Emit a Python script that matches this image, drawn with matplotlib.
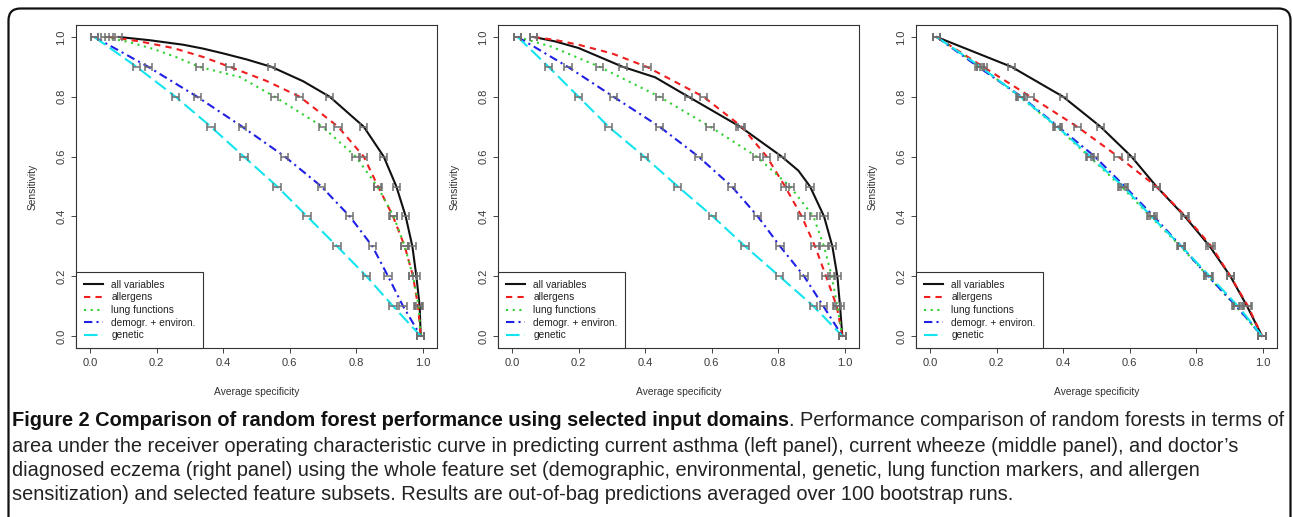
"""Three ROC-style panels (sensitivity vs average specificity) with a caption."""

import matplotlib

matplotlib.use("Agg")

import matplotlib.pyplot as plt
from matplotlib.patches import FancyBboxPatch
from matplotlib.transforms import IdentityTransform

plt.rcParams["font.family"] = ["Liberation Sans", "DejaVu Sans"]

SENS_LEVELS = [1.0, 0.9, 0.8, 0.7, 0.6, 0.5, 0.4, 0.3, 0.2, 0.1, 0.0]
SERIES = ["all variables", "allergens", "lung functions", "demogr. + environ.", "genetic"]
COLORS = ["#111111", "#f01e1e", "#2ed12e", "#1f1fe6", "#14e4ee"]
STYLES = ["-", (0, (3, 2.5)), (0, (1, 2.2)), (0, (4, 2, 1, 2)), (0, (6.5, 2.5))]

# average specificity at each sensitivity level (markers with error bars)
asthma = [
    [0.086, 0.545, 0.72, 0.822, 0.882, 0.92, 0.948, 0.968, 0.98, 0.99, 0.993],
    [0.057, 0.42, 0.63, 0.745, 0.822, 0.865, 0.91, 0.945, 0.97, 0.985, 0.993],
    [0.045, 0.328, 0.555, 0.698, 0.798, 0.863, 0.912, 0.945, 0.97, 0.987, 0.993],
    [0.013, 0.175, 0.322, 0.457, 0.585, 0.695, 0.78, 0.848, 0.895, 0.94, 0.993],
    [0.013, 0.14, 0.257, 0.363, 0.462, 0.562, 0.652, 0.742, 0.83, 0.91, 0.993],
]
wheeze = [
    [0.065, 0.333, 0.53, 0.685, 0.81, 0.895, 0.937, 0.962, 0.977, 0.985, 0.992],
    [0.065, 0.405, 0.575, 0.69, 0.765, 0.82, 0.87, 0.91, 0.943, 0.975, 0.992],
    [0.017, 0.263, 0.443, 0.595, 0.735, 0.835, 0.905, 0.937, 0.96, 0.977, 0.992],
    [0.017, 0.168, 0.305, 0.443, 0.56, 0.66, 0.738, 0.805, 0.877, 0.935, 0.992],
    [0.017, 0.11, 0.2, 0.29, 0.397, 0.498, 0.603, 0.7, 0.803, 0.905, 0.992],
]
eczema = [
    [0.02, 0.245, 0.4, 0.512, 0.605, 0.68, 0.765, 0.84, 0.902, 0.952, 0.997],
    [0.02, 0.16, 0.302, 0.442, 0.565, 0.68, 0.768, 0.845, 0.902, 0.955, 0.997],
    [0.02, 0.152, 0.27, 0.38, 0.478, 0.575, 0.662, 0.752, 0.835, 0.918, 0.997],
    [0.02, 0.145, 0.275, 0.385, 0.495, 0.585, 0.672, 0.755, 0.835, 0.92, 0.997],
    [0.02, 0.152, 0.272, 0.382, 0.482, 0.58, 0.665, 0.755, 0.84, 0.925, 0.997],
]

# extra (specificity, sensitivity) points read along the curved stretches
asthma_curve = [
    [(0.18, 0.989), (0.28, 0.974), (0.34, 0.961), (0.40, 0.945), (0.47, 0.925),
     (0.64, 0.852)],
    [(0.15, 0.985), (0.25, 0.963), (0.34, 0.933), (0.53, 0.853)],
    [(0.12, 0.982), (0.19, 0.96), (0.26, 0.932), (0.45, 0.866)],
    [],
    [],
]
wheeze_curve = [
    [(0.13, 0.985), (0.2, 0.963), (0.43, 0.865), (0.86, 0.553)],
    [(0.13, 0.99), (0.2, 0.974), (0.3, 0.945)],
    [(0.12, 0.967)],
    [],
    [],
]
eczema_curve = [[], [], [], [], []]

PANELS = [(asthma, asthma_curve), (wheeze, wheeze_curve), (eczema, eczema_curve)]
AXES_LEFT_PX = [76, 498, 916]

CAPTION_BOLD = "Figure 2 Comparison of random forest performance using selected input domains"
CAPTION_LINES = [
    ". Performance comparison of random forests in terms of",
    "area under the receiver operating characteristic curve in predicting current asthma "
    "(left panel), current wheeze (middle panel), and doctor\u2019s",
    "diagnosed eczema (right panel) using the whole feature set (demographic, environmental, "
    "genetic, lung function markers, and allergen",
    "sensitization) and selected feature subsets. Results are out-of-bag predictions "
    "averaged over 100 bootstrap runs.",
]

W, H = 1293, 517
fig = plt.figure(figsize=(W / 100, H / 100), dpi=100)


def draw_panel(ax, specs, curves):
    handles = []
    for i, name in enumerate(SERIES):
        pts = list(zip(specs[i], SENS_LEVELS)) + curves[i]
        pts.sort(key=lambda p: (-p[1], p[0]))
        (line,) = ax.plot(
            [p[0] for p in pts],
            [p[1] for p in pts],
            color=COLORS[i],
            linestyle=STYLES[i],
            linewidth=1.5,
            label=name,
            zorder=2,
        )
        handles.append(line)
    for i in range(len(SERIES)):
        ax.errorbar(
            specs[i],
            SENS_LEVELS,
            xerr=0.011,
            fmt="none",
            ecolor="#707070",
            elinewidth=1.1,
            capsize=3.0,
            capthick=1.1,
            zorder=3,
        )

    ax.set_xlim(-0.042, 1.042)
    ax.set_ylim(-0.04, 1.04)
    ticks = [0.0, 0.2, 0.4, 0.6, 0.8, 1.0]
    ax.set_xticks(ticks)
    ax.set_yticks(ticks)
    ax.set_xticklabels([f"{t:.1f}" for t in ticks])
    ax.set_yticklabels([f"{t:.1f}" for t in ticks], rotation=90, va="center")
    ax.tick_params(length=3.6, width=0.7, colors="#444444", labelsize=8,
                   labelcolor="#3a3a3a", pad=3.5)
    for spine in ax.spines.values():
        spine.set_linewidth(0.8)
        spine.set_color("#333333")

    ax.set_xlabel("Average specificity", fontsize=7.4, color="#333333")
    ax.set_ylabel("Sensitivity", fontsize=7.4, color="#333333")
    ax.xaxis.set_label_coords(0.5, -44 / 323)
    ax.yaxis.set_label_coords(-43 / 361, 0.5)
    ax.xaxis.label.set_va("center")
    ax.yaxis.label.set_va("center")

    leg = ax.legend(
        handles=handles,
        loc="lower left",
        bbox_to_anchor=(0, 0),
        borderaxespad=0,
        fontsize=7.3,
        frameon=True,
        fancybox=False,
        edgecolor="#333333",
        framealpha=1,
        handlelength=1.9,
        handletextpad=0.85,
        labelspacing=0.26,
        borderpad=0.75,
    )
    leg.get_frame().set_linewidth(0.8)
    for txt in leg.get_texts():
        txt.set_color("#222222")


for (specs, curves), left_px in zip(PANELS, AXES_LEFT_PX):
    ax = fig.add_axes([left_px / W, (H - 348) / H, 361 / W, 323 / H])
    draw_panel(ax, specs, curves)

# rounded frame around the whole figure (open towards the bottom edge)
frame = FancyBboxPatch(
    (8.5, -30),
    1282,
    H - 8.5 + 30,
    boxstyle="round,pad=0,rounding_size=12",
    transform=IdentityTransform(),
    facecolor="none",
    edgecolor="#111111",
    linewidth=1.6,
)
fig.patches.append(frame)

# caption, sized so that its first line spans the measured width
cap_family = ["Liberation Sans", "DejaVu Sans"]
renderer = fig.canvas.get_renderer()
size = 13.0
line_y = [421, 446, 470, 494]
bold = fig.text(12 / W, 1 - line_y[0] / H, CAPTION_BOLD, fontsize=size, weight="bold",
                family=cap_family, va="center", color="#111111")
rest = fig.text(0, 1 - line_y[0] / H, CAPTION_LINES[0], fontsize=size,
                family=cap_family, va="center", color="#222222")
wb = bold.get_window_extent(renderer).width
wr = rest.get_window_extent(renderer).width
size = size * 1266 / (wb + wr)
bold.set_fontsize(size)
rest.set_fontsize(size)
wb = bold.get_window_extent(renderer).width
rest.set_x((12 + wb) / W)
for text, y in zip(CAPTION_LINES[1:], line_y[1:]):
    fig.text(12 / W, 1 - y / H, text, fontsize=size, family=cap_family, va="center",
             color="#222222")

fig.savefig("out.png", dpi=100)
